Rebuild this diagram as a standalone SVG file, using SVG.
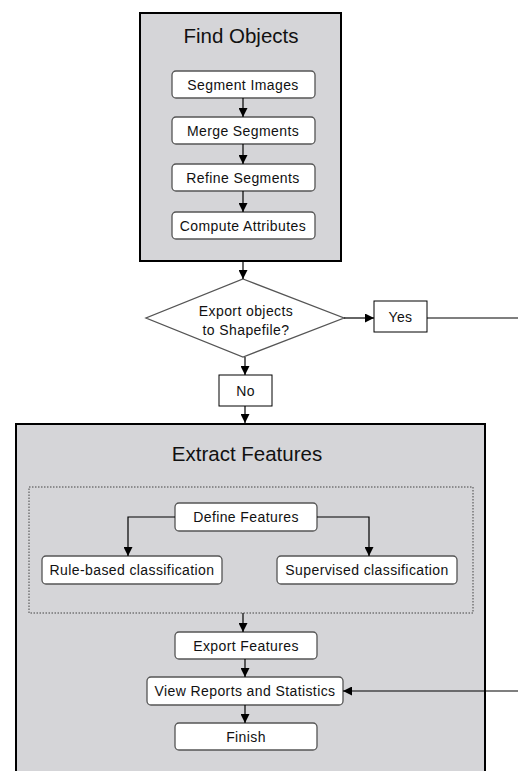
<svg xmlns="http://www.w3.org/2000/svg" width="518" height="771" viewBox="0 0 518 771">
<style>
.bg{fill:#d5d5d8;stroke:#000;stroke-width:2}
.box{fill:#fff;stroke:#555;stroke-width:1.3}
.sq{fill:#fff;stroke:#000;stroke-width:1}
.t{font-family:"Liberation Sans",Arial,sans-serif;font-size:14px;letter-spacing:0.4px;fill:#111;text-anchor:middle}
.h{font-family:"Liberation Sans",Arial,sans-serif;font-size:20.5px;fill:#111;text-anchor:middle}
.c{fill:none;stroke:#000;stroke-width:1.2}
.dot{fill:none;stroke:#444;stroke-width:1;stroke-dasharray:1.5 1.5}
</style>
<defs>
<marker id="a" viewBox="0 0 10 10" refX="10" refY="5" markerWidth="9" markerHeight="9" markerUnits="userSpaceOnUse" orient="auto">
<path d="M0,0 L10,5 L0,10 z" fill="#000"/>
</marker>
</defs>
<g id="find-objects">
<rect class="bg" x="140" y="13" width="201" height="248"/>
<text class="h" x="241" y="43">Find Objects</text>
</g>
<g id="segment-images"><rect class="box" x="172" y="71" width="143" height="27" rx="4"/><text class="t" x="243" y="89.5">Segment Images</text></g>
<g id="merge-segments"><rect class="box" x="172" y="117" width="143" height="27" rx="4"/><text class="t" x="243" y="135.5">Merge Segments</text></g>
<g id="refine-segments"><rect class="box" x="172" y="164" width="143" height="27" rx="4"/><text class="t" x="243" y="182.5">Refine Segments</text></g>
<g id="compute-attributes"><rect class="box" x="172" y="212" width="143" height="27" rx="4"/><text class="t" x="243" y="230.5">Compute Attributes</text></g>
<g id="decision">
<polygon points="243,279 344,318 243,357 146,318" fill="#fff" stroke="#555" stroke-width="1.3"/>
<text class="t" x="246" y="316">Export objects</text>
<text class="t" x="246" y="335">to Shapefile?</text>
</g>
<g id="yes"><rect class="sq" x="374" y="301" width="53" height="31"/><text class="t" x="400.5" y="321.5">Yes</text></g>
<g id="no"><rect class="sq" x="219" y="375" width="53" height="31"/><text class="t" x="245.5" y="395.5">No</text></g>
<g id="extract-features">
<rect class="bg" x="16" y="424" width="469" height="360"/>
<text class="h" x="247" y="461">Extract Features</text>
<rect class="dot" x="29" y="487" width="444" height="126"/>
</g>
<g id="define-features"><rect class="box" x="175" y="503" width="142" height="28" rx="4"/><text class="t" x="246" y="522">Define Features</text></g>
<g id="rule-based"><rect class="box" x="42" y="556" width="180" height="28" rx="4"/><text class="t" x="132" y="575">Rule-based classification</text></g>
<g id="supervised"><rect class="box" x="277" y="556" width="180" height="28" rx="4"/><text class="t" x="367" y="575">Supervised classification</text></g>
<g id="export-features"><rect class="box" x="175" y="632" width="142" height="27" rx="4"/><text class="t" x="246" y="650.5">Export Features</text></g>
<g id="view-reports"><rect class="box" x="147" y="677" width="196" height="28" rx="4"/><text class="t" x="245" y="696">View Reports and Statistics</text></g>
<g id="finish"><rect class="box" x="175" y="723" width="142" height="27" rx="4"/><text class="t" x="246" y="741.5">Finish</text></g>
<g id="connectors">
<line class="c" x1="243" y1="98" x2="243" y2="117" marker-end="url(#a)"/>
<line class="c" x1="243" y1="144" x2="243" y2="164" marker-end="url(#a)"/>
<line class="c" x1="243" y1="191" x2="243" y2="212" marker-end="url(#a)"/>
<line class="c" x1="243" y1="262" x2="243" y2="279" marker-end="url(#a)"/>
<line class="c" x1="344" y1="318" x2="374" y2="318" marker-end="url(#a)"/>
<line class="c" x1="427" y1="318" x2="518" y2="318"/>
<line class="c" x1="245" y1="357" x2="245" y2="375" marker-end="url(#a)"/>
<line class="c" x1="245" y1="406" x2="245" y2="423" marker-end="url(#a)"/>
<polyline class="c" points="175,517 128,517 128,556" marker-end="url(#a)"/>
<polyline class="c" points="317,517 369,517 369,556" marker-end="url(#a)"/>
<line class="c" x1="243" y1="613" x2="243" y2="632" marker-end="url(#a)"/>
<line class="c" x1="245" y1="659" x2="245" y2="677" marker-end="url(#a)"/>
<line class="c" x1="245" y1="705" x2="245" y2="723" marker-end="url(#a)"/>
<line class="c" x1="518" y1="691" x2="343" y2="691" marker-end="url(#a)"/>
</g>
</svg>
